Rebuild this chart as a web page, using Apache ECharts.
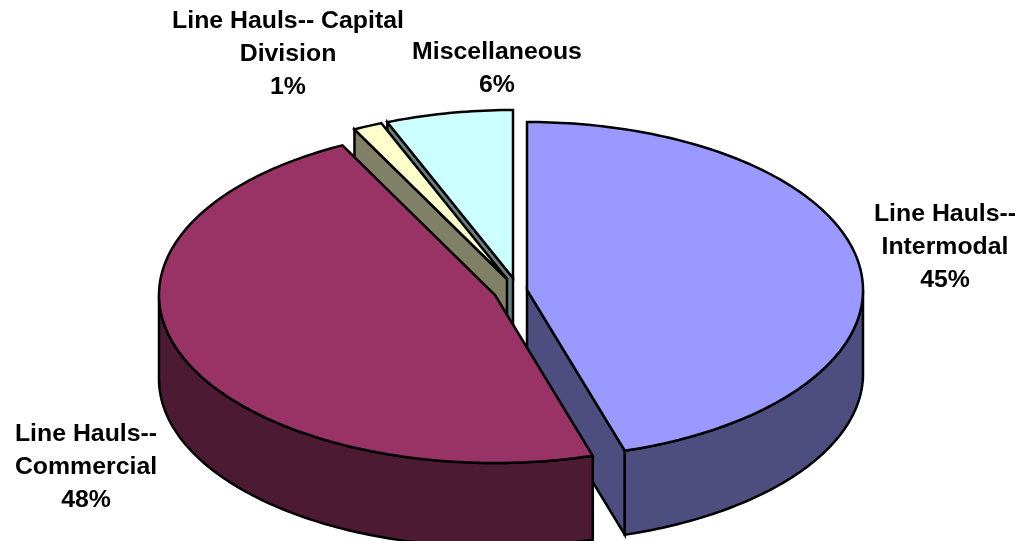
<!DOCTYPE html>
<html>
<head>
<meta charset="utf-8">
<style>html,body{margin:0;padding:0;background:#fff}#c{width:1024px;height:541px}</style>
<script src="https://cdn.jsdelivr.net/npm/echarts@6/dist/echarts.min.js"></script>
</head>
<body>
<div id="c"></div>
<script>
// Data
var categories = ['Line Hauls--\nIntermodal', 'Line Hauls--\nCommercial', 'Line Hauls-- Capital\nDivision', 'Miscellaneous'];
var values = [45.3, 47.2, 1.4, 6.1];        // slice sizes as read from the drawn wedges
var percentLabels = ['45%', '48%', '1%', '6%']; // percentages as printed

// Colours
var topColors = ['#9999FF', '#993366', '#FFFFCC', '#CCFFFF'];
var sideColors = ['#4D4D80', '#4D1A33', '#808066', '#668080'];

// Layout
var centers = [[527, 290], [495, 295], [507, 279], [513, 278]];
var labelAnchors = [[945, 248], [86, 468], [288, 55], [497, 69.5]];
var drawOrder = [3, 2, 0, 1];
var radiusX = 336, radiusY = 168, depth = 84;

var total = values.reduce(function (a, b) { return a + b; }, 0);
var starts = [], acc = 0;
values.forEach(function (v) { starts.push(acc / total * 360); acc += v; });

function pt(c, deg, dy) {
  var r = deg * Math.PI / 180;
  return [c[0] + radiusX * Math.sin(r), c[1] - radiusY * Math.cos(r) + (dy || 0)];
}
function arc(c, a, b, dy) {
  var out = [], n = Math.max(2, Math.ceil(Math.abs(b - a)));
  for (var k = 0; k <= n; k++) out.push(pt(c, a + (b - a) * k / n, dy));
  return out;
}
function poly(points, fill) {
  return {
    type: 'polygon',
    shape: { points: points },
    style: { fill: fill, stroke: '#000', lineWidth: 2.5, lineJoin: 'miter' }
  };
}

function renderItem(params, api) {
  var i = api.value(1);
  var c = centers[i];
  var a = starts[i];
  var b = a + api.value(0) / total * 360;
  var children = [];
  var below = [c[0], c[1] + depth];

  // cut face on the starting radius, if it faces the viewer
  if (a > 180 && a < 360) {
    children.push(poly([c, pt(c, a), pt(c, a, depth), below], sideColors[i]));
  }
  // cut face on the ending radius, if it faces the viewer
  if (b > 0 && b < 180) {
    children.push(poly([c, pt(c, b), pt(c, b, depth), below], sideColors[i]));
  }
  // outer wall, the front half of the rim only
  var wa = Math.max(a, 90), wb = Math.min(b, 270);
  if (wb > wa) {
    children.push(poly(arc(c, wa, wb, 0).concat(arc(c, wb, wa, depth)), sideColors[i]));
  }
  // top face
  children.push(poly([c].concat(arc(c, a, b, 0)), topColors[i]));

  // label
  children.push({
    type: 'text',
    z2: 100,
    x: labelAnchors[i][0],
    y: labelAnchors[i][1],
    scaleX: 1.08,
    style: {
      text: categories[i] + '\n' + percentLabels[i],
      x: 0,
      y: 0,
      align: 'center',
      verticalAlign: 'middle',
      fill: '#000',
      font: 'bold 23px "Liberation Sans", Arial, sans-serif',
      lineHeight: 33
    }
  });
  return { type: 'group', children: children };
}

var chart = echarts.init(document.getElementById('c'), null, { renderer: 'canvas' });
chart.setOption({
  animation: false,
  backgroundColor: '#fff',
  series: [{
    type: 'custom',
    coordinateSystem: 'none',
    silent: true,
    renderItem: renderItem,
    data: drawOrder.map(function (i) { return [values[i], i]; })
  }]
});
</script>
</body>
</html>
